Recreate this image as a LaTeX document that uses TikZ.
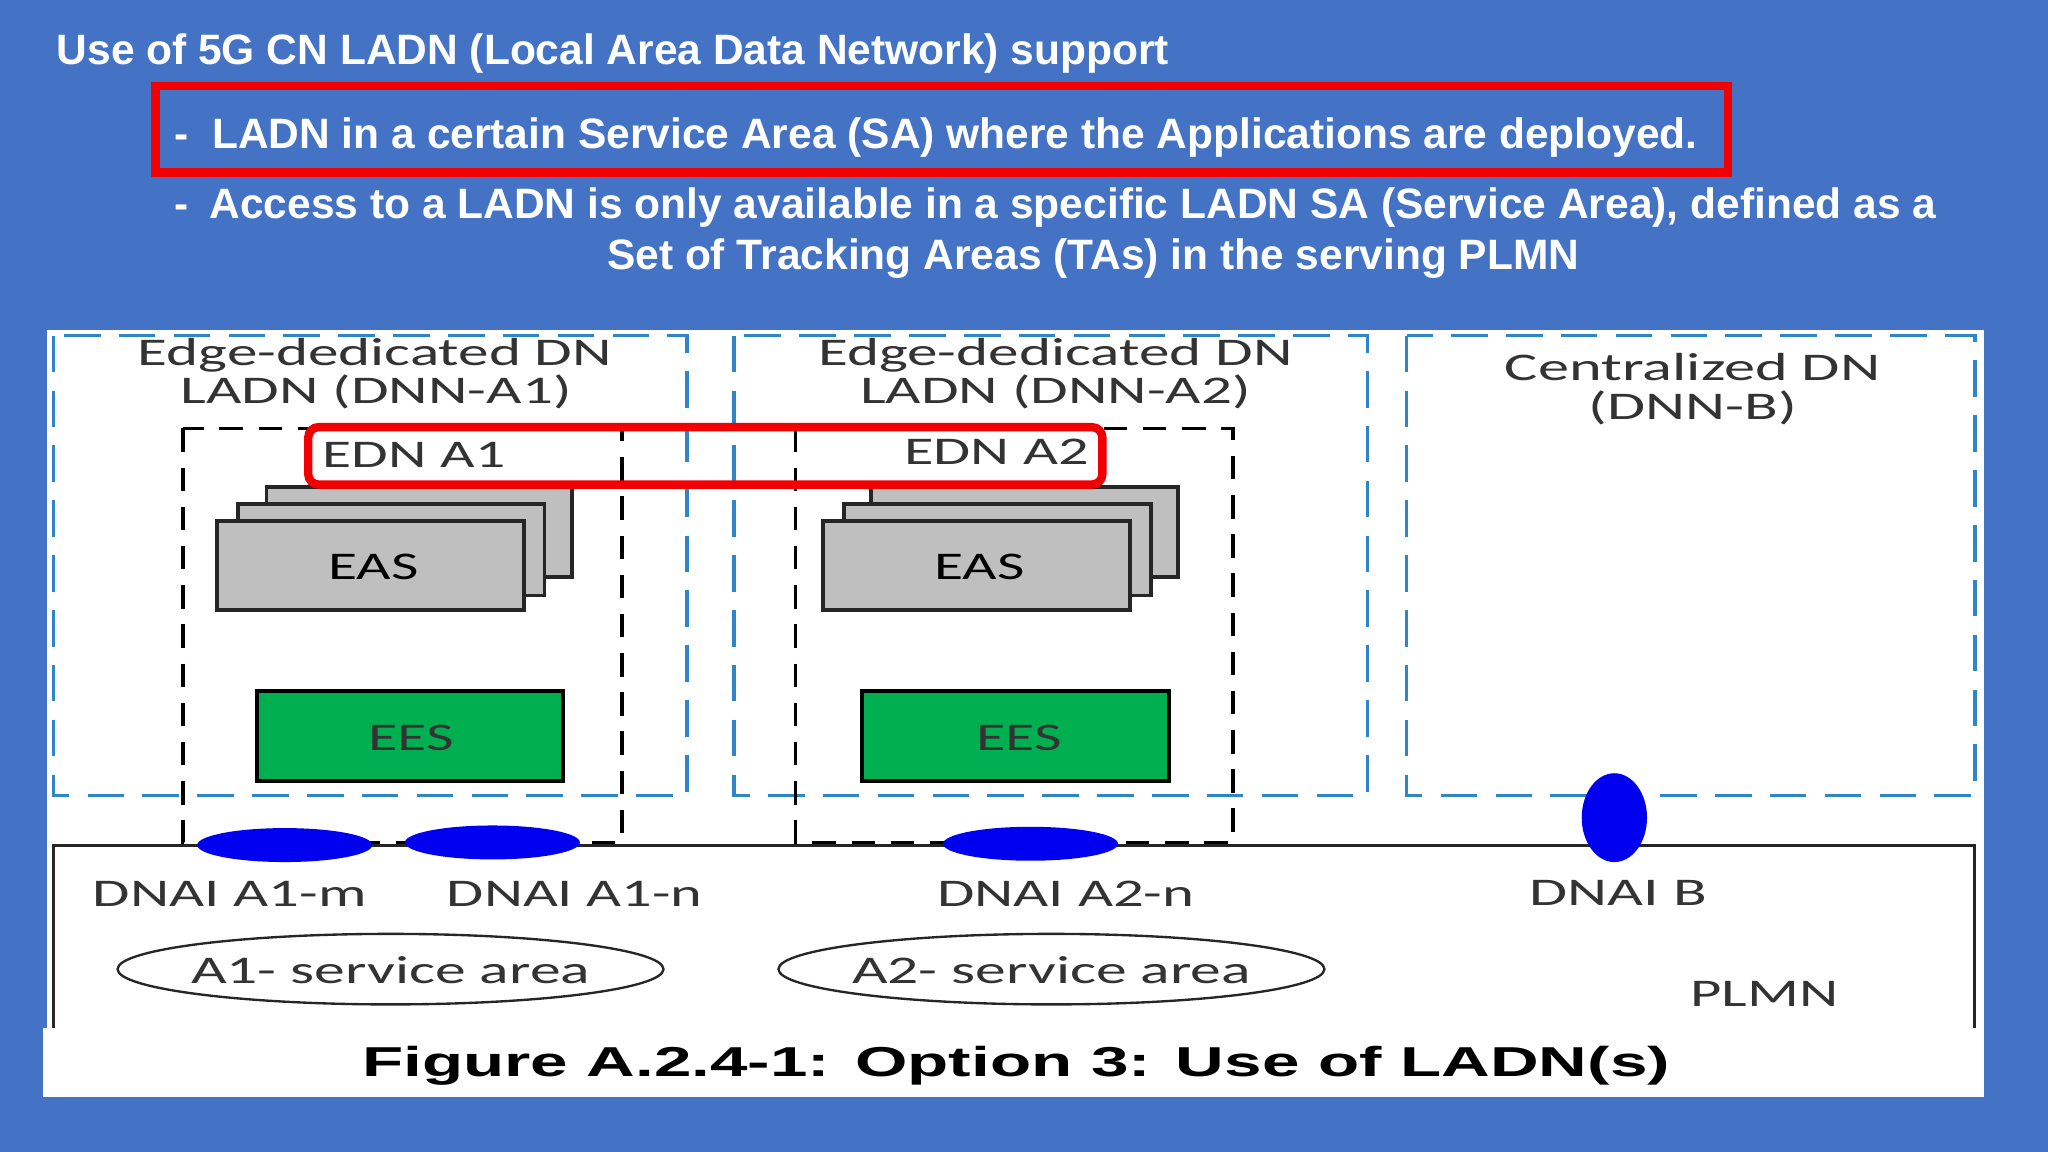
\documentclass[tikz,border=0pt]{standalone}
\usepackage{fontspec}
\usepackage{graphicx}
\setmainfont{Liberation Sans}
\newfontfamily\calib{Carlito}
\definecolor{slidebg}{HTML}{4472C4}
\definecolor{dnblue}{HTML}{2E86C8}
\definecolor{eesgreen}{HTML}{00B050}
\definecolor{easgray}{HTML}{BFBFBF}
\definecolor{labelgray}{HTML}{333333}
\definecolor{dnaiblue}{HTML}{0000F0}
\definecolor{hired}{HTML}{F00000}
\tikzset{
  x=0.5pt,y=-0.5pt,
  head/.style={inner sep=0,text=white,font=\fontsize{16.27}{20}\selectfont\bfseries},
  dnbox/.style={draw=dnblue,line width=1.3pt,dash pattern=on 14pt off 7pt},
  edge box/.style={draw=black,line width=1.4pt,dash pattern=on 9pt off 6pt},
  easbox/.style={draw=black!85,fill=easgray,line width=1.4pt},
  eesbox/.style={draw=black,fill=eesgreen,line width=1.4pt},
  plmnline/.style={draw=black!85,line width=1.2pt},
  hilite/.style={draw=hired,line width=3.2pt,rounded corners=4pt},
  dnai/.style={fill=dnaiblue,draw=none},
  lab/.style={inner sep=0,text=labelgray,font=\calib\fontsize{15}{18}\selectfont},
}
\newcommand{\sx}[2]{\scalebox{#1}[1]{#2}}
\begin{document}
\begin{tikzpicture}
\useasboundingbox (0,0) rectangle (1568,882);
\fill[slidebg] (0,0) rectangle (1568,882);
\fill[white] (36,253) rectangle (1519,790);
\fill[white] (33,787) rectangle (1519,840);
% heading
\node[head,anchor=west] (h1) at (43,41) {Use of 5G CN LADN (Local Area Data Network) support};
\node[head,anchor=west] (h2) at (133,105) {-\hspace{0.56em}LADN in a certain Service Area (SA) where the Applications are deployed.};
\node[head,anchor=west] (h3) at (133,159) {-\hspace{0.5em}Access to a LADN is only available in a specific LADN SA (Service Area), defined as a};
\node[head] (h4) at (837,198) {Set of Tracking Areas (TAs) in the serving PLMN};
\draw[draw=hired,line width=3.2pt] (119,66) rectangle (1323,132);
% DN boxes
\draw[dnbox] (41,257) rectangle (526,609);
\draw[dnbox] (562,257) rectangle (1047,609);
\draw[dnbox] (1077,257) rectangle (1512,609);
\node[lab] (dn1a) at (287,272) {\sx{1.56}{Edge-dedicated DN}};
\node[lab] (dn1b) at (288,300) {\sx{1.56}{LADN (DNN-A1)}};
\node[lab] (dn2a) at (808,272) {\sx{1.56}{Edge-dedicated DN}};
\node[lab] (dn2b) at (808,300) {\sx{1.56}{LADN (DNN-A2)}};
\node[lab] (dn3a) at (1296,281) {\sx{1.59}{Centralized DN}};
\node[lab] (dn3b) at (1296,312) {\sx{1.58}{(DNN-B)}};
% EDN areas
\draw[edge box] (140,328) rectangle (476,645);
\draw[edge box] (609,328) rectangle (944,645);
% EAS stacks
\draw[easbox] (204,373) rectangle (438,442);
\draw[easbox] (182,386) rectangle (417,456);
\draw[easbox] (166,399) rectangle (401,467);
\node[lab,text=black] (eas1) at (286,434) {\sx{1.52}{EAS}};
\draw[easbox] (667,373) rectangle (902,442);
\draw[easbox] (646,386) rectangle (881,456);
\draw[easbox] (630,399) rectangle (865,467);
\node[lab,text=black] (eas2) at (750,434) {\sx{1.52}{EAS}};
% EES
\draw[eesbox] (197,529) rectangle (431,598);
\node[lab] (ees1) at (315,565) {\sx{1.53}{EES}};
\draw[eesbox] (660,529) rectangle (895,598);
\node[lab] (ees2) at (780,565) {\sx{1.53}{EES}};
% PLMN
\draw[plmnline] (41,787) -- (41,647) -- (1512,647) -- (1512,787);
\fill[dnai] (218,647) ellipse [x radius=67,y radius=13];
\fill[dnai] (377,645) ellipse [x radius=67,y radius=13];
\fill[dnai] (789,646) ellipse [x radius=67,y radius=13];
\fill[dnai] (1236,626) ellipse [x radius=25,y radius=34];
\node[lab] (d1) at (176,684) {\sx{1.55}{DNAI A1-m}};
\node[lab] (d2) at (440,684) {\sx{1.54}{DNAI A1-n}};
\node[lab] (d3) at (816,684) {\sx{1.55}{DNAI A2-n}};
\node[lab] (d4) at (1239,684) {\sx{1.58}{DNAI B}};
\node[lab] (pl) at (1351,761) {\sx{1.55}{PLMN}};
\draw[plmnline,line width=0.9pt] (299,742) ellipse [x radius=209,y radius=27];
\draw[plmnline,line width=0.9pt] (805,742) ellipse [x radius=209,y radius=27];
\node[lab] (sa1) at (299,743) {\sx{1.57}{A1- service area}};
\node[lab] (sa2) at (805,743) {\sx{1.57}{A2- service area}};
% EDN labels and red highlight
\node[lab] (e1) at (317,348) {\sx{1.52}{EDN A1}};
\node[lab] (e2) at (763,346) {\sx{1.54}{EDN A2}};
\draw[hilite] (236,327) rectangle (844,371);
% caption
\node[inner sep=0,text=black,font=\fontsize{16}{18}\selectfont\bfseries] (cap) at (778,816) {\sx{1.612}{Figure A.2.4-1: Option 3: Use of LADN(s)}};
\end{tikzpicture}
\end{document}
